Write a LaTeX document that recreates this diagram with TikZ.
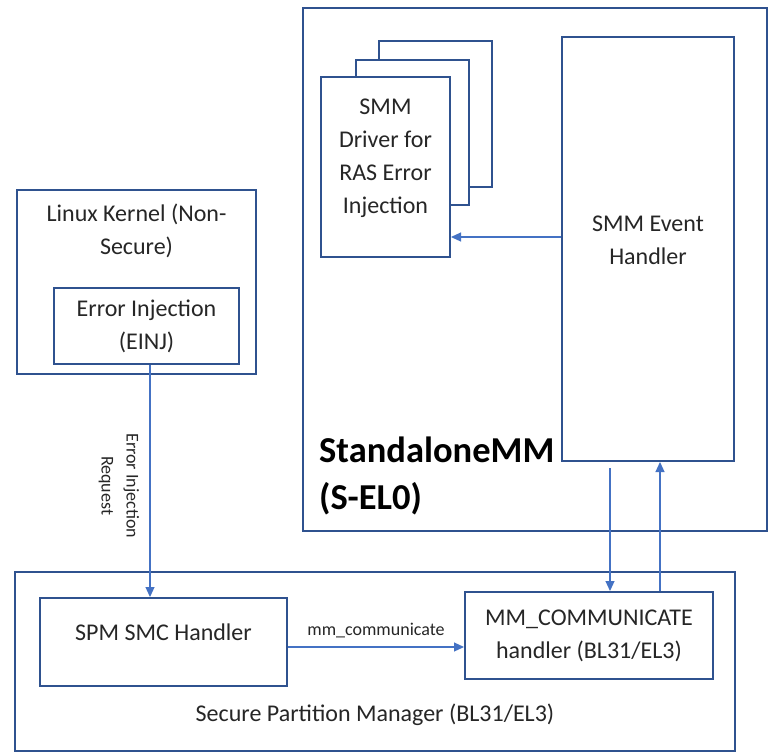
\documentclass[tikz,border=0pt]{standalone}
\usepackage{fontspec}
\setmainfont{Carlito}
\usetikzlibrary{arrows.meta,calc}
\definecolor{boxblue}{HTML}{2F528F}
\definecolor{arrblue}{HTML}{4472C4}
\tikzset{
  box/.style={draw=boxblue, line width=2pt, fill=white, inner sep=0pt},
  txt/.style={font=\fontsize{24}{33}\selectfont, align=center, inner sep=0pt, text=black!85},
  small/.style={font=\fontsize{18}{25}\selectfont, align=center, inner sep=0pt, text=black!85},
  arr/.style={draw=arrblue, line width=1.1pt, -{Triangle[length=10pt,width=9pt]}},
}
\begin{document}
\begin{tikzpicture}[x=1pt,y=-1pt]
\useasboundingbox (0,0) rectangle (769,753);
% containers
\node[box, minimum width=239pt, minimum height=184pt] (linux) at (136.5,282) {};
\node[box, minimum width=464pt, minimum height=523pt] (smm) at (535,269.5) {};
\node[box, minimum width=720pt, minimum height=179pt] (spm) at (375,661.5) {};
% linux kernel
\node[txt] (linuxt) at (136.5,231) {Linux Kernel (Non-\\Secure)};
\node[box, minimum width=185pt, minimum height=76pt, txt] (einj) at (146.5,326) {Error Injection\\(EINJ)};
% stacked SMM driver boxes
\node[box, minimum width=113pt, minimum height=146pt] (back) at (435.5,114) {};
\node[box, minimum width=113pt, minimum height=145pt] (mid) at (412.5,132.5) {};
\node[box, minimum width=129pt, minimum height=180pt] (front) at (385.5,167) {};
\node[txt] (frontt) at (385.5,158) {SMM\\Driver for\\RAS Error\\Injection};
% event handler
\node[box, minimum width=172pt, minimum height=424pt] (event) at (648,249) {};
\node[txt] (eventt) at (648,240) {SMM Event\\Handler};
% StandaloneMM label
\node[anchor=west, inner sep=0pt, align=left, font=\fontsize{36.5}{47}\selectfont\bfseries] (smmt) at (319,476) {StandaloneMM\\(S-EL0)};
% SPM
\node[box, minimum width=247pt, minimum height=88pt] (smc) at (163.5,642) {};
\node[txt] (smct) at (163.5,632) {SPM SMC Handler};
\node[box, minimum width=248pt, minimum height=87pt, txt] (mmc) at (589,635.5) {MM\_COMMUNICATE\\handler (BL31/EL3)};
\node[txt] (spmt) at (375,715) {Secure Partition Manager (BL31/EL3)};
% arrows
\draw[arr] ([xshift=3.5pt]einj.south) -- ([xshift=3.5pt]einj.south |- smc.north)
  node[pos=0.52, small, rotate=-90, yshift=-31pt] (req) {Error Injection\\Request};
\draw[arr] ([yshift=12pt]event.west) -- ([yshift=12pt]event.west -| front.east);
\draw[arr] ([yshift=-5pt]smc.east) -- ([yshift=-5pt]smc.east -| mmc.west)
  node[midway, small, above=9pt] (mmlab) {mm\_communicate};
\draw[arr] ([xshift=-38pt,yshift=-6pt]event.south) -- ([xshift=-38pt]event.south |- mmc.north);
\draw[arr] ([xshift=12pt]event.south |- mmc.north) -- ([xshift=12pt]event.south);
\end{tikzpicture}
\end{document}
